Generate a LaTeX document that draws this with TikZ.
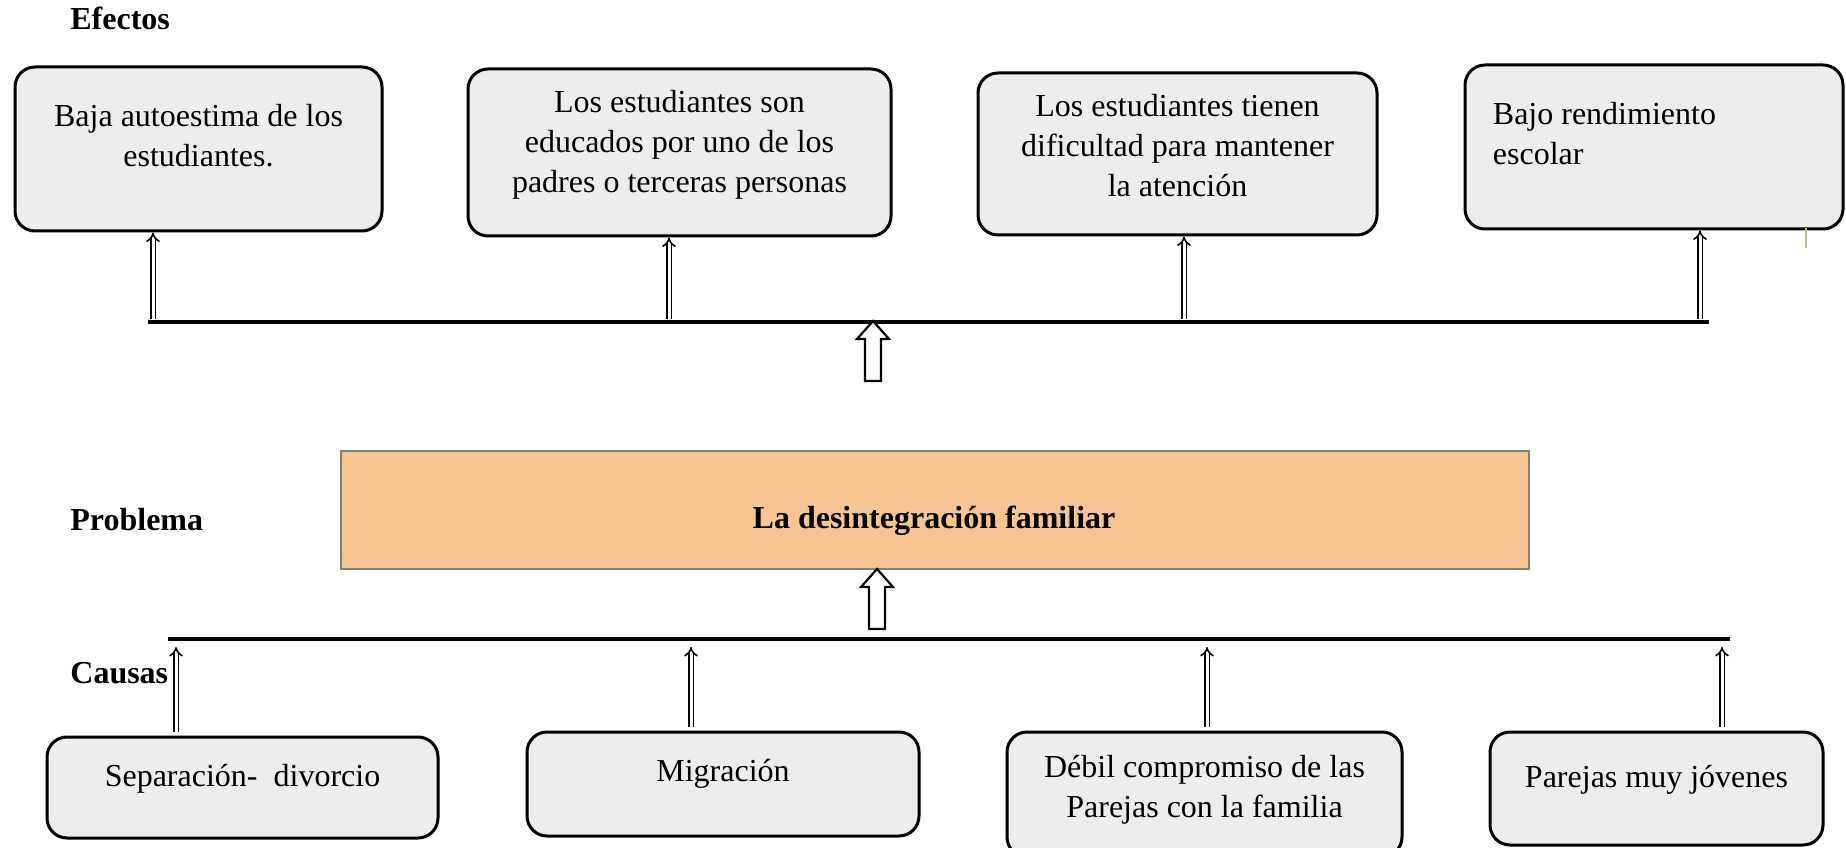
\documentclass[tikz,border=0pt]{standalone}
\usepackage{fontspec}
\setmainfont{Liberation Serif}
\usetikzlibrary{arrows.meta,positioning}
\definecolor{boxgray}{RGB}{237,237,237}
\definecolor{probfill}{RGB}{247,197,145}
\definecolor{probline}{RGB}{122,137,108}
\definecolor{tickgreen}{RGB}{165,195,140}
\tikzset{effbox/.style={draw, line width=1.5pt, rounded corners=10pt, fill=boxgray, inner sep=0pt}}
\tikzset{boxtext/.style={inner sep=0pt, align=center, font=\fontsize{16}{20}\selectfont}}
\tikzset{heading/.style={inner sep=0pt, anchor=base west, font=\bfseries\fontsize{16}{20}\selectfont}}
\tikzset{arr/.style={draw, double, double distance=1.5pt, line width=0.8pt, -{Implies}}}
\tikzset{bar/.style={draw, line width=1.6pt}}
\tikzset{bigarr/.style={draw, line width=1.1pt, fill=white, line join=miter}}
% hollow block arrow pointing up, tip at #1
\newcommand{\hollowup}[1]{\draw[bigarr] (#1) -- ++(-1.6,-1.8) -- ++(0.8,0) -- ++(0,-4.2) -- ++(1.6,0) -- ++(0,4.2) -- ++(0.8,0) -- cycle;}

\begin{document}
\begin{tikzpicture}[x=5pt, y=5pt]
	\useasboundingbox (0,0) rectangle (184.6,84.7);

	\node[heading] (efectos) at (7.0,81.7) {Efectos};
	\node[heading] (problema) at (7.0,31.7) {Problema};
	\node[heading] (causas) at (7.0,16.4) {Causas};

	% efectos
	\node[effbox, minimum width=183.5pt, minimum height=82pt] (E1) at (19.85,69.8) {};
	\node[effbox, minimum width=211.5pt, minimum height=83.5pt] (E2) at (67.95,69.45) {};
	\node[effbox, minimum width=199.5pt, minimum height=81pt] (E3) at (117.75,69.3) {};
	\node[effbox, minimum width=189pt, minimum height=82pt] (E4) at (165.4,70.0) {};

	\node[boxtext, below=19pt of E1.north] (t1) {Baja autoestima de los\\estudiantes.};
	\node[boxtext, below=11pt of E2.north] (t2) {Los estudiantes son\\educados por uno de los\\padres o terceras personas};
	\node[boxtext, below=11pt of E3.north] (t3) {Los estudiantes tienen\\dificultad para mantener\\la atención};
	\node[boxtext, align=left, below right=19pt and 14.5pt of E4.north west] (t4) {Bajo rendimiento\\escolar};

	\draw[tickgreen, line width=0.8pt] (180.6,61.9) -- (180.6,59.9);

	\coordinate (eL) at (14.8,52.5);
	\coordinate (eR) at (170.9,52.5);
	\draw[bar] (eL) -- (eR);
	\foreach \x/\b in {15.3/E1, 66.9/E2, 118.4/E3, 170.0/E4}{
		\coordinate (a) at (\x,52.8);
		\draw[arr] (a) -- (a |- \b.south);
	}
	\coordinate (etip) at (87.3,52.6);
	\hollowup{etip}

	% problema
	\node[draw=probline, line width=1.4pt, fill=probfill, minimum width=594pt, minimum height=59pt, inner sep=0pt] (P) at (93.5,33.7) {};
	\node[heading, anchor=base] (ptext) at (93.4,31.9) {La desintegración familiar};
	\coordinate (ptip) at (87.7,27.8);
	\hollowup{ptip}

	% causas
	\node[effbox, minimum width=195.5pt, minimum height=50.5pt] (C1) at (24.25,5.95) {};
	\node[effbox, minimum width=196pt, minimum height=52pt] (C2) at (72.3,6.3) {};
	\node[effbox, minimum width=197.5pt, minimum height=62.5pt] (C3) at (120.45,5.25) {};
	\node[effbox, minimum width=166.5pt, minimum height=56.5pt] (C4) at (165.65,5.85) {};

	\node[boxtext, below=14pt of C1.north] (u1) {Separación- \ divorcio};
	\node[boxtext, below=14pt of C2.north] (u2) {Migración};
	\node[boxtext, below=12pt of C3.north] (u3) {Débil compromiso de las\\Parejas con la familia};
	\node[boxtext, below=17pt of C4.north] (u4) {Parejas muy jóvenes};

	\coordinate (cL) at (16.8,20.8);
	\coordinate (cR) at (173.0,20.8);
	\draw[bar] (cL) -- (cR);
	\foreach \x/\b in {17.6/C1, 69.1/C2, 120.7/C3, 172.2/C4}{
		\coordinate (c) at (\x,20.0);
		\draw[arr, shorten <=2pt] (c |- \b.north) -- (c);
	}
\end{tikzpicture}
\end{document}
